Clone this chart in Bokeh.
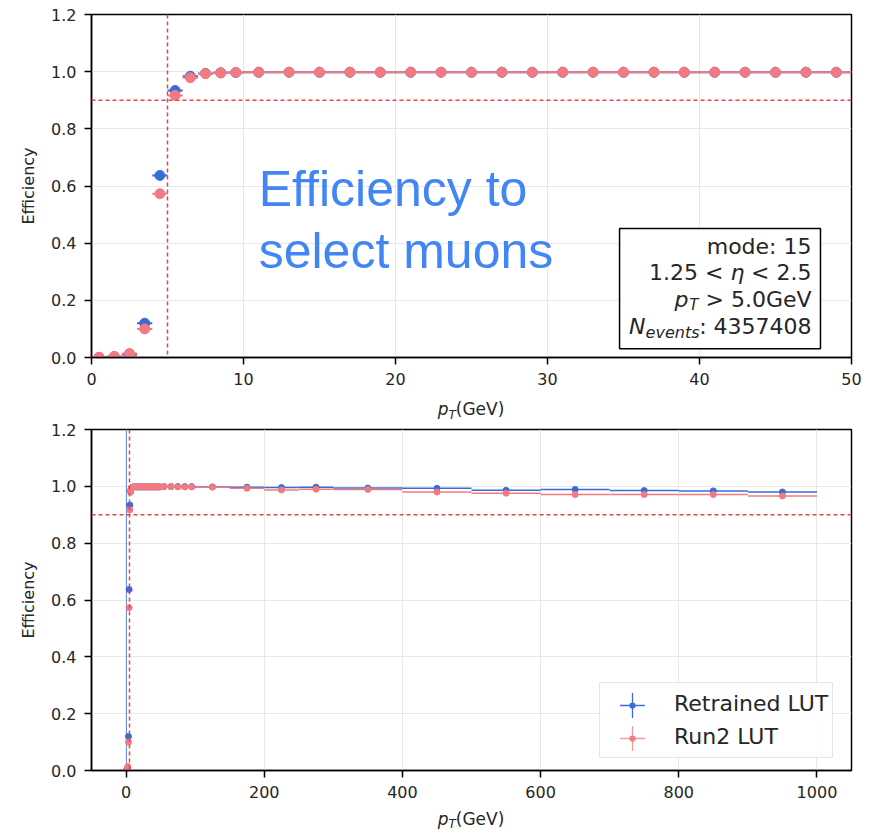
from bokeh.plotting import figure
from bokeh.models import (Range1d, FixedTicker, NumeralTickFormatter, Span, Label,
                          BoxAnnotation, Legend, LegendItem, ColumnDataSource, Div)
from bokeh.layouts import column
from bokeh.embed import file_html
from bokeh.resources import INLINE

# ---------------- data ----------------
# top panel: pT bin edges (GeV)
top_edges = [0, 1, 2, 3, 4, 5, 6, 7, 8, 9, 10,
             12, 14, 16, 18, 20, 22, 24, 26, 28, 30,
             32, 34, 36, 38, 40, 42, 44, 46, 48, 50]
top_retrained = [0.000, 0.002, 0.010, 0.120, 0.637, 0.934, 0.984, 0.994, 0.996, 0.997,
                 0.998, 0.998, 0.998, 0.998, 0.998, 0.998, 0.998, 0.998, 0.998, 0.998,
                 0.998, 0.998, 0.998, 0.998, 0.998, 0.998, 0.998, 0.998, 0.998, 0.998]
top_run2 = [0.001, 0.004, 0.014, 0.100, 0.573, 0.917, 0.979, 0.993, 0.996, 0.997,
            0.998, 0.998, 0.998, 0.998, 0.998, 0.998, 0.998, 0.998, 0.998, 0.998,
            0.998, 0.998, 0.998, 0.998, 0.998, 0.998, 0.998, 0.998, 0.998, 0.998]

# bottom panel: same bins plus high-pT bins
bottom_extra_edges = [60, 70, 80, 90, 100, 150, 200, 250, 300,
                      400, 500, 600, 700, 800, 900, 1000]
bottom_extra_retrained = [0.999, 0.999, 0.999, 0.999, 0.999, 0.998, 0.997, 0.996,
                          0.997, 0.994, 0.993, 0.986, 0.989, 0.985, 0.984, 0.980]
bottom_extra_run2 = [0.999, 0.999, 0.998, 0.998, 0.998, 0.997, 0.993, 0.987,
                     0.990, 0.989, 0.980, 0.976, 0.971, 0.971, 0.971, 0.966]
# error bar of the first retrained bin in the bottom panel (spans the full range)
bottom_first_bin_err = [0.0, 1.2]

pt_threshold = 5.0
eff_target = 0.9

top_x_ticks = [0, 10, 20, 30, 40, 50]
bottom_x_ticks = [0, 200, 400, 600, 800, 1000]
y_ticks = [0.0, 0.2, 0.4, 0.6, 0.8, 1.0, 1.2]

series_names = ["Retrained LUT", "Run2 LUT"]
info_lines = ["mode: 15", "1.25 <", "η", "< 2.5", "p", "T", "> 5.0GeV", "N", "events", ": 4357408"]
xlabel_parts = ["p", "T", "(GeV)"]

BLUE = "#3b6bd9"
RED = "#f27a80"
DASH_RED = "#e8424a"
TXT = "#262626"
FONT = "DejaVu Sans"
NAN = float("nan")

bottom_edges = top_edges + bottom_extra_edges
bottom_retrained = top_retrained + bottom_extra_retrained
bottom_run2 = top_run2 + bottom_extra_run2

W = 870
BL, BR = 91, 19


def make_src(edges, vals):
    lo = edges[:-1]
    hi = edges[1:]
    x = [(a + b) / 2 for a, b in zip(lo, hi)]
    return ColumnDataSource(dict(x=x, lo=lo, hi=hi, y=vals))


def style(p, xticks):
    p.outline_line_color = "black"
    p.outline_line_width = 1.5
    p.outline_line_alpha = 1
    p.background_fill_color = "white"
    p.border_fill_color = "white"
    p.xaxis.ticker = FixedTicker(ticks=xticks)
    p.yaxis.ticker = FixedTicker(ticks=y_ticks)
    p.yaxis.formatter = NumeralTickFormatter(format="0.0")
    for ax in (p.xaxis, p.yaxis):
        ax.axis_line_color = "black"
        ax.axis_line_width = 1.5
        ax.major_tick_line_color = "black"
        ax.major_tick_line_width = 1.5
        ax.major_tick_out = 7
        ax.major_tick_in = 0
        ax.minor_tick_line_color = None
        ax.major_label_text_font = FONT
        ax.major_label_text_font_size = "16px"
        ax.major_label_text_color = TXT
        ax.major_label_standoff = 8
    p.yaxis.axis_label = "Efficiency"
    p.yaxis.axis_label_text_font = FONT
    p.yaxis.axis_label_text_font_size = "16px"
    p.yaxis.axis_label_text_font_style = "normal"
    p.yaxis.axis_label_text_color = TXT
    p.yaxis.axis_label_standoff = 10
    p.grid.grid_line_color = "#e8e8e8"
    p.grid.grid_line_width = 1
    p.add_layout(Span(location=pt_threshold, dimension="height", line_color=DASH_RED,
                      line_dash="4 3", line_width=1.5))
    p.add_layout(Span(location=eff_target, dimension="width", line_color=DASH_RED,
                      line_dash="4 3", line_width=1.5))


def label_strip(height, pad_top, sub_drop):
    """A thin strip under a panel that carries the x-axis title p_T(GeV)."""
    html = (
        f'<div style="box-sizing:border-box; width:{W}px; height:{height}px; '
        f'padding:{pad_top}px {BR}px 0 {BL}px; text-align:center; '
        f'font-family:\'{FONT}\'; font-size:17px; line-height:20px; color:{TXT}; '
        f'white-space:nowrap; overflow:visible;">'
        f'<i>{xlabel_parts[0]}</i>'
        f'<span style="position:relative; top:{sub_drop}px; font-size:12px; font-style:italic;">'
        f'{xlabel_parts[1]}</span>{xlabel_parts[2]}</div>'
    )
    return Div(text=html, width=W, height=height, margin=0)


# ---------------- top panel ----------------
p1 = figure(width=W, height=393, output_backend="svg", toolbar_location=None,
            x_range=Range1d(0, 50), y_range=Range1d(0, 1.2),
            min_border_left=BL, min_border_right=BR, min_border_top=14, min_border_bottom=36)
style(p1, top_x_ticks)

s_b = make_src(top_edges, top_retrained)
s_r = make_src(top_edges, top_run2)
p1.segment(x0="lo", x1="hi", y0="y", y1="y", source=s_b, line_color=BLUE, line_width=2)
p1.scatter(x="x", y="y", source=s_b, size=10, fill_color=BLUE, line_color=BLUE)
p1.segment(x0="lo", x1="hi", y0="y", y1="y", source=s_r, line_color=RED, line_width=2)
p1.scatter(x="x", y="y", source=s_r, size=10, fill_color=RED, line_color=RED)

# overlay headline
p1.add_layout(Label(x=11.0, y=0.532, y_offset=16, text="Efficiency to", text_font="Liberation Sans",
                    text_font_size="50px", text_color="#4285f4", text_baseline="alphabetic"))
p1.add_layout(Label(x=11.0, y=0.318, y_offset=16, text="select muons", text_font="Liberation Sans",
                    text_font_size="50px", text_color="#4285f4", text_baseline="alphabetic"))

# info box
p1.add_layout(BoxAnnotation(left=34.74, right=47.96, bottom=0.031, top=0.451,
                            fill_color="white", fill_alpha=1, line_color="black",
                            line_width=1.5, line_alpha=1))
XR = 47.37


def info(text, y, xoff=0, yoff=0, size="22px", style_="normal"):
    p1.add_layout(Label(x=XR, y=y, x_offset=xoff, y_offset=yoff + 6, text=text, text_font=FONT,
                        text_font_size=size, text_font_style=style_, text_color=TXT,
                        text_align="right", text_baseline="alphabetic"))


info(info_lines[0], 0.367)
info(info_lines[3], 0.276)
info(info_lines[2], 0.276, xoff=-67, style_="italic")
info(info_lines[1], 0.276, xoff=-88)
info(info_lines[6], 0.182)
info(info_lines[5], 0.182, xoff=-113, yoff=-6, size="15px", style_="italic")
info(info_lines[4], 0.182, xoff=-123, style_="italic")
info(info_lines[9], 0.087)
info(info_lines[8], 0.087, xoff=-112, yoff=-6, size="16px", style_="italic")
info(info_lines[7], 0.087, xoff=-166, style_="italic")

lab1 = label_strip(26, 6, 4)

# ---------------- bottom panel ----------------
p2 = figure(width=W, height=386, output_backend="svg", toolbar_location=None,
            x_range=Range1d(-50, 1050), y_range=Range1d(0, 1.2),
            min_border_left=BL, min_border_right=BR, min_border_top=10, min_border_bottom=35)
style(p2, bottom_x_ticks)

b_b = make_src(bottom_edges, bottom_retrained)
b_r = make_src(bottom_edges, bottom_run2)
x_first = (bottom_edges[0] + bottom_edges[1]) / 2
p2.segment(x0=[x_first], x1=[x_first], y0=[bottom_first_bin_err[0]], y1=[bottom_first_bin_err[1]],
           line_color=BLUE, line_width=1, line_alpha=0.8)
p2.segment(x0="lo", x1="hi", y0="y", y1="y", source=b_b, line_color=BLUE, line_width=1.5)
p2.scatter(x="x", y="y", source=b_b, size=6, fill_color=BLUE, line_color=BLUE)
p2.segment(x0="lo", x1="hi", y0="y", y1="y", source=b_r, line_color=RED, line_width=1.5)
p2.scatter(x="x", y="y", source=b_r, size=6, fill_color=RED, line_color=RED)

# legend: box + labels, and two glyph-only legends for the error-bar crosses
nan_src = ColumnDataSource(dict(x=[NAN], y=[NAN]))
blank = p2.line(x="x", y="y", source=nan_src, line_alpha=0)
lb_c = p2.scatter(x="x", y="y", source=nan_src, marker="cross", line_color=BLUE, line_width=1.3)
lb_d = p2.scatter(x="x", y="y", source=nan_src, marker="dot", line_color=BLUE, fill_color=BLUE)
lr_c = p2.scatter(x="x", y="y", source=nan_src, marker="cross", line_color=RED,
                  line_width=1.3, line_alpha=0.75)
lr_d = p2.scatter(x="x", y="y", source=nan_src, marker="dot", line_color=RED, fill_color=RED)

leg_box = Legend(items=[LegendItem(label=series_names[0], renderers=[blank]),
                        LegendItem(label=series_names[1], renderers=[blank])],
                 location=(508, 12), glyph_width=60, glyph_height=33, spacing=0,
                 padding=4, label_standoff=10,
                 label_text_font=FONT, label_text_font_size="22px", label_text_color=TXT,
                 border_line_color="#cccccc", border_line_width=1.2,
                 background_fill_color="white", background_fill_alpha=0.85)
p2.add_layout(leg_box)
for rends, loc in (([lb_c, lb_d], (510, 34.5)), ([lr_c, lr_d], (510, 1.5))):
    p2.add_layout(Legend(items=[LegendItem(label=" ", renderers=rends)], location=loc,
                         glyph_width=62, glyph_height=62, padding=0, spacing=0,
                         label_standoff=0, label_text_font_size="4px",
                         border_line_color=None, background_fill_alpha=0))

lab2 = label_strip(27, 4, 3)

layout = column(p1, lab1, p2, lab2, spacing=0)
open("out.html", "w").write(file_html(layout, INLINE))
